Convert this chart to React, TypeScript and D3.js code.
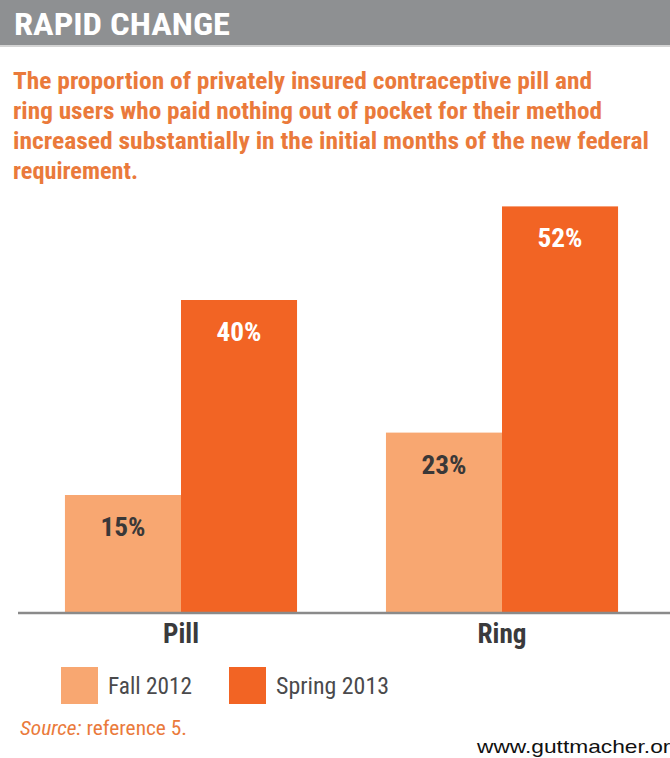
import * as d3 from "d3";

const CATEGORIES = ["Pill", "Ring"];
const SERIES = ["Fall 2012", "Spring 2013"];
const FALL_2012 = [15, 23];
const SPRING_2013 = [40, 52];
const SUBTITLE = [
  "The proportion of privately insured contraceptive pill and",
  "ring users who paid nothing out of pocket for their method",
  "increased substantially in the initial months of the new federal",
  "requirement.",
];

const W = 670;
const H = 758;
const BASE_Y = 612;
const COLORS = ["#F8A771", "#F26424"];
const ORANGE_TEXT = "#EA7A3B";
const COND = "'Roboto Condensed', 'Liberation Sans Narrow', 'DejaVu Sans Condensed', 'Open Sans', sans-serif";

// target widths for the condensed lines (the reference face is narrower than anything installed)
const SUB_WIDTHS = [579, 589, 636, 125];

export default function App() {
  const x0 = d3.scaleBand<string>().domain(CATEGORIES).range([20, 663]).paddingInner(0.277).paddingOuter(0.14);
  const x1 = d3.scaleBand<string>().domain(SERIES).range([0, x0.bandwidth()]).padding(0);
  const y = d3.scaleLinear().domain([0, 60]).range([BASE_Y, BASE_Y - 7.8 * 60]);

  const rows = CATEGORIES.map((c, i) => ({ cat: c, values: [FALL_2012[i], SPRING_2013[i]] }));

  return (
    <>
      <style>{`body{margin:0}`}</style>
      <svg width={W} height={H} style={{ display: "block", overflow: "hidden" }} fontFamily={COND}>
        <rect x={0} y={0} width={W} height={45} fill="#8E9092" />
        <line x1={0} x2={W} y1={46} y2={46} stroke="#d4d4d4" strokeWidth={2} />
        <text x={14} y={35} fill="#fff" fontSize={32} fontWeight={700} textLength={216} lengthAdjust="spacingAndGlyphs">
          RAPID CHANGE
        </text>

        {SUBTITLE.map((line, i) => (
          <text
            key={i}
            x={13}
            y={89 + i * 30}
            fill={ORANGE_TEXT}
            fontSize={24}
            fontWeight={700}
            textLength={SUB_WIDTHS[i]}
            lengthAdjust="spacingAndGlyphs"
          >
            {line}
          </text>
        ))}

        {rows.map((r) => (
          <g key={r.cat} transform={`translate(${x0(r.cat)},0)`}>
            {r.values.map((v, j) => (
              <g key={j}>
                <rect x={x1(SERIES[j])} y={y(v)} width={x1.bandwidth()} height={BASE_Y - y(v)} fill={COLORS[j]} />
                <text
                  x={(x1(SERIES[j]) ?? 0) + x1.bandwidth() / 2}
                  y={y(v) + 32}
                  dy="0.36em"
                  textAnchor="middle"
                  fill={j === 0 ? "#3a3838" : "#fff"}
                  fontSize={25}
                  fontWeight={700}
                  textLength={45}
                  lengthAdjust="spacingAndGlyphs"
                >
                  {v}%
                </text>
              </g>
            ))}
            <text
              x={x0.bandwidth() / 2}
              y={643}
              textAnchor="middle"
              fill="#3a3a3c"
              fontSize={28}
              fontWeight={700}
              textLength={r.cat === "Pill" ? 36 : 49}
              lengthAdjust="spacingAndGlyphs"
            >
              {r.cat}
            </text>
          </g>
        ))}

        <line x1={18} x2={W} y1={BASE_Y + 1} y2={BASE_Y + 1} stroke="#8a8a8a" strokeWidth={2.5} />

        {SERIES.map((s, i) => {
          const lx = [61, 229][i];
          return (
            <g key={s}>
              <rect x={lx} y={667} width={37} height={37} fill={COLORS[i]} />
              <text
                x={lx + 47}
                y={694}
                fill="#4a4a4c"
                fontSize={24}
                textLength={i === 0 ? 84 : 113}
                lengthAdjust="spacingAndGlyphs"
              >
                {s}
              </text>
            </g>
          );
        })}

        <text x={20} y={735} fill={ORANGE_TEXT} fontSize={20} textLength={167} lengthAdjust="spacingAndGlyphs">
          <tspan fontStyle="italic">Source:</tspan> reference 5.
        </text>

        <text
          x={477}
          y={753}
          fill="#111"
          fontFamily="'Liberation Sans', Arial, sans-serif"
          fontSize={19}
          textLength={206}
          lengthAdjust="spacingAndGlyphs"
        >
          www.guttmacher.org
        </text>
      </svg>
    </>
  );
}
